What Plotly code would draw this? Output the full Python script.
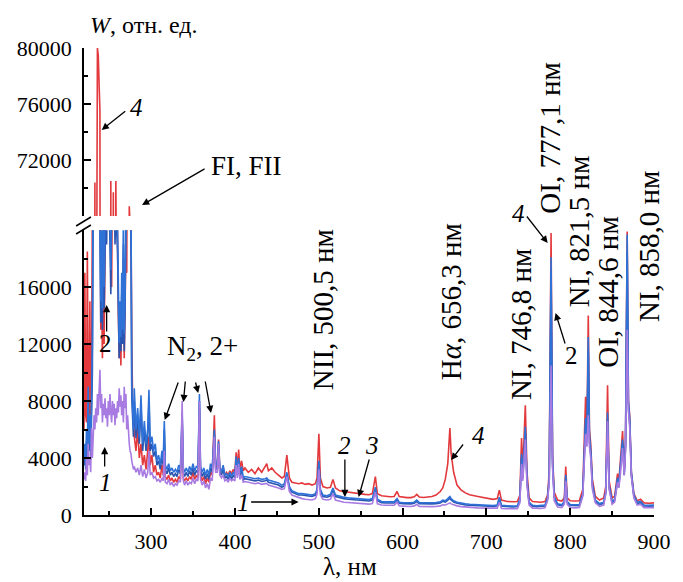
import plotly.graph_objects as go

# ---------------- data ----------------
lam_uv = [220, 221, 222, 223, 224, 225, 226, 227, 228, 229,
          230, 231, 232, 233, 234, 235, 236, 237, 238, 239,
          240, 241, 242, 243, 244, 245, 246, 247, 248, 249,
          250, 251, 252, 253, 254, 255, 256, 257, 258, 259,
          260, 261, 262, 263, 264, 265, 266, 267, 268, 269,
          270, 271, 272, 273, 274, 275, 276, 277, 278, 279,
          280]
lam_n2 = [282, 284, 286, 288, 290, 292, 294, 296, 297.5, 299,
          301, 303, 305, 307, 309, 311, 313, 314.5, 315.8, 317,
          319, 321, 323, 325, 327, 329, 331, 333, 335, 337.1,
          338.5, 340, 342, 344, 346, 348, 350, 352, 354, 356,
          357.7, 359, 361, 363, 365, 367, 369, 371, 373, 375.5,
          377, 379, 380.5, 382, 384, 386, 388, 390, 392, 394,
          396, 398, 400, 401.5, 403, 404.5, 406, 408, 410]
lam_vis = [412, 416, 420, 424, 428, 432, 436, 438, 440, 444,
           448, 452, 456, 459, 462, 465, 468, 472, 476, 480,
           484, 488, 492, 496, 498, 500.2, 502, 505, 510, 514,
           517, 520, 525, 530, 535, 540, 545, 550, 555, 560,
           564, 567.6, 570, 575, 580, 585, 590, 593.5, 596, 600,
           605, 610, 614, 617, 620, 625, 630, 635, 640, 645,
           648, 651, 654, 655.5, 656.5, 658, 661, 665, 670, 675,
           680, 690, 700, 708, 713, 715.5, 718, 725, 732, 737,
           740, 742, 743.5, 746.5, 748.5, 751, 755, 760, 765, 770,
           773, 775, 777.2, 779, 781, 785, 790, 793, 794.7, 796.5,
           800, 806, 811, 815, 818.4, 820, 821.6, 823, 824.5, 826.5,
           830, 835, 840, 842.5, 844.6, 846.5, 850, 853, 856.5, 858,
           859.8, 862.5, 864.5, 866, 868, 869.5, 871, 873, 876, 880,
           884, 888, 894, 900]

# curve 4 (red)
w4_uv = [6000, 17000, 7000, 6500, 18500, 8000, 7000, 15000, 6000, 9000,
         22000, 35000, 28000, 70400, 30000, 60000, 80000, 79500, 77500, 75500,
         13000, 16000, 11000, 18000, 12000, 20000, 24000, 21000, 25000, 22000,
         30000, 40000, 70500, 16000, 50000, 69700, 40000, 45000, 70500, 25000,
         18000, 14000, 11000, 13000, 10500, 15000, 12000, 18000, 11000, 15000,
         18500, 17000, 25000, 35000, 68700, 30000, 18000, 12000, 8000, 6500,
         5500]
w4_n2 = [4500, 6000, 4000, 5000, 3500, 4200, 3200, 4500, 5500, 3500,
         4200, 3000, 3500, 2800, 3000, 2600, 3500, 2800, 5000, 2700,
         2500, 2800, 2400, 2600, 2300, 2500, 2300, 2700, 2500, 6500,
         2600, 2400, 2600, 2400, 2700, 2500, 3000, 2500, 2800, 2600,
         7500, 2800, 2400, 2700, 2200, 2600, 2300, 3000, 2800, 7000,
         3500, 3200, 5300, 3200, 3000, 3400, 2800, 3000, 2800, 3100,
         2900, 3200, 3000, 4400, 3300, 4600, 3200, 3800, 3100]
w4_vis = [3300, 3000, 3200, 2900, 3300, 3000, 3400, 3600, 3100, 3300,
          3000, 2800, 2600, 2700, 4200, 2600, 2300, 2250, 2200, 2250,
          2150, 2200, 2100, 2200, 2600, 5700, 2600, 2000, 1900, 1950,
          2500, 1900, 1700, 1650, 1600, 1550, 1500, 1480, 1450, 1420,
          1500, 2700, 1500, 1350, 1300, 1280, 1300, 1650, 1300, 1250,
          1220, 1220, 1280, 1450, 1260, 1230, 1250, 1300, 1400, 1650,
          1900, 2500, 3600, 5200, 6100, 4300, 3000, 2100, 1750, 1550,
          1420, 1300, 1200, 1100, 1150, 1750, 1050, 950, 930, 950,
          1400, 5400, 3200, 7700, 3000, 1200, 950, 900, 900, 950,
          1400, 3000, 19800, 4200, 1600, 1050, 980, 1200, 3400, 1200,
          1000, 980, 1000, 1800, 8300, 6000, 14000, 6000, 5000, 2500,
          1300, 1050, 1200, 2000, 9100, 2400, 1200, 1300, 2900, 2300,
          3600, 5900, 3200, 5000, 19900, 8000, 7000, 3000, 1500, 1000,
          1100, 850, 820, 850]

# curve 2 (blue)
w2_uv = [4000, 5000, 3500, 6000, 4500, 9000, 5000, 7000, 4500, 8000,
         12000, 25000, 30000, 28000, 26000, 30000, 28000, 27000, 25000, 22000,
         15000, 21000, 14500, 24000, 16000, 22000, 25000, 21000, 26000, 23000,
         24000, 21000, 17200, 23000, 25000, 22000, 26000, 21000, 24000, 22000,
         20500, 16000, 12100, 15000, 12500, 17000, 13000, 21000, 12700, 16000,
         25000, 22000, 26000, 24000, 28000, 25000, 23000, 9000, 7500, 6000,
         8900]
w2_n2 = [6000, 7500, 5500, 8400, 5000, 6600, 5000, 6000, 8800, 5000,
         5500, 4500, 5000, 3800, 4200, 3500, 4500, 3800, 6600, 3500,
         3200, 3600, 3100, 3300, 3000, 3200, 3000, 3500, 3200, 7200,
         3300, 3000, 3300, 3000, 3400, 3100, 3600, 3100, 3400, 3300,
         8500, 3400, 3000, 3300, 2800, 3200, 2800, 3600, 3300, 6000,
         3600, 3500, 5200, 3300, 3000, 3500, 2800, 2900, 2700, 3000,
         2700, 3000, 2800, 4100, 3000, 4000, 2900, 3400, 2600]
w2_vis = [2700, 2650, 2600, 2550, 2600, 2500, 2550, 2600, 2450, 2400,
          2350, 2250, 2100, 2200, 3000, 2000, 1700, 1600, 1500, 1500,
          1450, 1450, 1400, 1500, 1800, 3800, 1800, 1400, 1350, 1450,
          1900, 1400, 1300, 1250, 1200, 1180, 1150, 1120, 1100, 1080,
          1150, 1950, 1100, 950, 920, 900, 920, 1150, 900, 880,
          860, 860, 900, 1050, 870, 850, 850, 860, 880, 920,
          1050, 1000, 1150, 1250, 1300, 1150, 1000, 900, 830, 780,
          750, 720, 690, 660, 700, 1250, 680, 630, 620, 650,
          1100, 4300, 2800, 6200, 2500, 900, 680, 650, 650, 700,
          1200, 2600, 18100, 3800, 1300, 780, 720, 950, 2800, 950,
          730, 700, 720, 1500, 6800, 5500, 12500, 5500, 4600, 2200,
          1050, 800, 900, 1700, 7200, 2100, 950, 1100, 2600, 2100,
          3200, 5300, 3000, 5000, 19700, 8000, 6800, 3000, 1400, 900,
          950, 700, 680, 700]

# curve 3 (dark blue, lies just under curve 2)
w3_uv = [3500, 4500, 3200, 5200, 4000, 7500, 4500, 6000, 4000, 7000,
         10000, 22000, 26000, 25000, 23000, 27000, 25000, 24000, 22000, 20000,
         13500, 19000, 13000, 21000, 14500, 20000, 22000, 19000, 23000, 21000,
         22000, 19000, 15500, 21000, 22500, 20000, 23000, 19000, 21500, 20000,
         18500, 14500, 11000, 13500, 11500, 15500, 12000, 19000, 11500, 14500,
         22000, 20000, 23000, 21500, 25000, 22500, 21000, 8200, 6800, 5500,
         8000]
w3_n2 = [5400, 6800, 5000, 7600, 4500, 6000, 4500, 5400, 8000, 4500,
         5000, 4100, 4500, 3500, 3800, 3200, 4100, 3500, 6000, 3200,
         2900, 3300, 2800, 3000, 2700, 2900, 2700, 3200, 2900, 6800,
         3000, 2700, 3000, 2700, 3100, 2800, 3300, 2800, 3100, 3000,
         8000, 3100, 2700, 3000, 2500, 2900, 2500, 3300, 3000, 5600,
         3300, 3200, 4900, 3000, 2800, 3200, 2600, 2700, 2500, 2800,
         2500, 2800, 2600, 3900, 2800, 3800, 2700, 3200, 2450]
w3_vis = [2550, 2500, 2450, 2400, 2450, 2350, 2400, 2450, 2300, 2250,
          2200, 2100, 1950, 2050, 2850, 1850, 1600, 1500, 1400, 1400,
          1350, 1350, 1300, 1400, 1700, 3600, 1700, 1300, 1250, 1350,
          1750, 1300, 1200, 1150, 1100, 1080, 1050, 1020, 1000, 980,
          1050, 1800, 1000, 870, 840, 820, 840, 1050, 820, 800,
          780, 780, 820, 950, 790, 770, 770, 780, 800, 840,
          960, 910, 1050, 1140, 1180, 1050, 910, 820, 750, 710,
          680, 650, 630, 600, 640, 1150, 620, 570, 560, 590,
          1000, 4000, 2600, 5800, 2300, 820, 620, 590, 590, 640,
          1100, 2400, 17000, 3500, 1200, 710, 660, 870, 2600, 870,
          670, 640, 660, 1400, 6300, 5100, 11500, 5100, 4300, 2000,
          960, 730, 820, 1550, 6700, 1900, 870, 1000, 2400, 1950,
          3000, 5000, 2800, 4700, 18500, 7500, 6400, 2800, 1300, 820,
          870, 640, 620, 640]

# curve 1 (purple)
w1_uv = [2500, 3000, 2400, 4000, 2800, 5000, 3500, 4000, 3000, 6100,
         4000, 5500, 7000, 6000, 7500, 6500, 8500, 7000, 9000, 10200,
         7500, 8500, 6500, 7800, 7000, 8200, 6800, 7500, 6200, 8000,
         7000, 8500, 7200, 6500, 8000, 7000, 7800, 6300, 7500, 6800,
         8000, 7200, 8900, 7600, 8400, 7000, 8000, 6500, 9000, 7500,
         8500, 6000, 7000, 5500, 5000, 4500, 4300, 3800, 3500, 3200,
         3400]
w1_n2 = [3000, 3300, 2800, 3500, 2700, 3200, 2600, 3000, 4500, 2800,
         3000, 2600, 2700, 2400, 2500, 2300, 2600, 2400, 4500, 2300,
         2200, 2500, 2100, 2300, 2000, 2200, 2100, 2400, 2300, 8000,
         2400, 2100, 2400, 2100, 2300, 2200, 2600, 2200, 2500, 2400,
         8000, 2500, 2100, 2400, 1900, 2200, 1800, 2600, 2400, 5500,
         3000, 3000, 5000, 2800, 2600, 2800, 2400, 2500, 2300, 2600,
         2400, 2500, 2400, 3500, 2600, 3600, 2500, 2800, 2300]
w1_vis = [2350, 2300, 2250, 2200, 2250, 2150, 2200, 2200, 2100, 2050,
          2000, 1900, 1800, 1850, 2700, 1650, 1400, 1300, 1200, 1150,
          1100, 1100, 1050, 1150, 1450, 3200, 1400, 1100, 1050, 1100,
          1500, 1050, 950, 900, 880, 850, 830, 800, 780, 760,
          800, 1600, 780, 700, 680, 660, 680, 900, 650, 620,
          600, 600, 640, 750, 600, 580, 580, 590, 600, 640,
          720, 700, 780, 830, 850, 780, 700, 640, 590, 560,
          530, 500, 480, 460, 480, 900, 460, 440, 430, 450,
          850, 3600, 2400, 5300, 2100, 700, 480, 460, 460, 500,
          1000, 2300, 10500, 3300, 1000, 560, 520, 750, 2400, 750,
          520, 500, 520, 1300, 5700, 4800, 7000, 4800, 4000, 1800,
          850, 600, 700, 1500, 6600, 1800, 750, 900, 2300, 1900,
          2800, 4700, 2800, 4500, 13000, 7300, 6200, 2700, 1200, 700,
          750, 520, 500, 520]

x_ticks = [300, 400, 500, 600, 700, 800, 900]
x_minor = [250, 350, 450, 550, 650, 750, 850]
y_low_ticks = [0, 4000, 8000, 12000, 16000]
y_low_minor = [2000, 6000, 10000, 14000, 18000]
y_up_ticks = [72000, 76000, 80000]
y_up_minor = [70000, 74000, 78000]

line_labels = ["NII, 500,5 нм", "H<i>α</i>, 656,3 нм", "NI, 746,8 нм", "OI, 777,1 нм",
               "NI, 821,5 нм", "OI, 844,6 нм", "NI, 858,0 нм"]

lam = lam_uv + lam_n2 + lam_vis
series = [
    ("4", w4_uv + w4_n2 + w4_vis, "#e3393c"),
    ("3", w3_uv + w3_n2 + w3_vis, "#2a55b0"),
    ("2", w2_uv + w2_n2 + w2_vis, "#2e72d8"),
    ("1", w1_uv + w1_n2 + w1_vis, "#a87be2"),
]
for _, v, _c in series:
    assert len(v) == len(lam), (len(v), len(lam))

# ---------------- layout geometry ----------------
W, H = 683, 582
ML, MR, MT, MB = 84, 20, 48, 67
PW = W - ML - MR
PH = H - MT - MB
FONT = "Liberation Serif, Times New Roman, serif"


def px(x):
    return (x - ML) / PW


def py(y):
    return (H - MB - y) / PH


fig = go.Figure()
for name, vals, col in series:
    for ya in ("y", "y2"):
        fig.add_trace(go.Scatter(x=lam, y=vals, mode="lines", yaxis=ya,
                                 line=dict(color=col, width=1.6),
                                 showlegend=False, hoverinfo="skip"))

axis_common = dict(showline=True, linecolor="black", linewidth=1.5,
                   ticks="inside", ticklen=7, tickwidth=1.5, tickcolor="black",
                   showgrid=False, zeroline=False, tickmode="array",
                   ticklabelstandoff=6,
                   tickfont=dict(family=FONT, size=22, color="black"))


def minor(vals):
    return dict(tickmode="array", tickvals=vals, ticks="inside",
                ticklen=4, tickwidth=1.5, tickcolor="black")


fig.update_layout(
    width=W, height=H,
    margin=dict(l=ML, r=MR, t=MT, b=MB, pad=0),
    paper_bgcolor="white", plot_bgcolor="white",
    font=dict(family=FONT, color="black"),
    xaxis=dict(domain=[0, 1], anchor="y", range=[220, 900],
               tickvals=x_ticks, ticktext=[str(v) for v in x_ticks],
               minor=minor(x_minor), **axis_common),
    yaxis=dict(domain=[0, 0.61], anchor="x", range=[0, 20000],
               tickvals=y_low_ticks, ticktext=[str(v) for v in y_low_ticks],
               minor=minor(y_low_minor), **axis_common),
    yaxis2=dict(domain=[0.64, 1], anchor="x", range=[68000, 80000],
                tickvals=y_up_ticks, ticktext=[str(v) for v in y_up_ticks],
                minor=minor(y_up_minor), **axis_common),
)

# axis break marks
for (x0, y0, x1, y1) in [(76, 226, 91, 217), (76, 234, 91, 225)]:
    fig.add_shape(type="line", xref="paper", yref="paper",
                  x0=px(x0), y0=py(y0), x1=px(x1), y1=py(y1),
                  line=dict(color="black", width=1.5))


def text(t, x, y, size, angle=0):
    fig.add_annotation(text=t, x=px(x), y=py(y), xref="paper", yref="paper",
                       xanchor="center", yanchor="middle", showarrow=False,
                       textangle=angle, font=dict(family=FONT, size=size, color="black"))


def arrow(x0, y0, x1, y1):
    fig.add_annotation(text="", x=px(x1), y=py(y1), xref="paper", yref="paper",
                       ax=x0 - x1, ay=y0 - y1, axref="pixel", ayref="pixel",
                       showarrow=True, arrowhead=2, arrowsize=1.1, arrowwidth=1.3,
                       arrowcolor="black", standoff=0, startstandoff=0,
                       font=dict(family=FONT, size=12))


# rotated spectral line labels
rot_pos = [(327, 310), (457, 302), (528, 325), (557, 138), (587, 232), (616, 292), (658, 247)]
for lbl, (x, y) in zip(line_labels, rot_pos):
    text(lbl, x, y, 29, angle=-90)

text("FI, FII", 249, 166, 27)
text("N<sub>2</sub>, 2+", 204, 348, 27)
text("<i>W</i>, отн. ед.", 145, 25, 24)
text("λ, нм", 354, 566, 25)

# curve numbers
text("<i>4</i>", 137, 108, 25)
text("2", 106, 343, 25)
text("<i>1</i>", 106, 482, 25)
text("<i>1</i>", 246, 502, 25)
text("<i>2</i>", 349, 445, 25)
text("<i>3</i>", 377, 445, 25)
text("<i>4</i>", 485, 435, 25)
text("<i>4</i>", 525, 213, 25)
text("2", 579, 355, 25)

# arrows (tail -> head)
arrow(127, 110, 102, 130)
arrow(207, 168, 143, 205)
arrow(107, 333, 107, 305)
arrow(105, 468, 105, 447)
arrow(180, 381, 166, 420)
arrow(187, 380, 185, 402)
arrow(197, 381, 200, 393)
arrow(207, 380, 213, 413)
arrow(253, 502, 302, 502)
arrow(349, 458, 349, 497)
arrow(374, 458, 363, 497)
arrow(470, 443, 457, 460)
arrow(533, 215, 555, 243)
arrow(573, 345, 563, 313)

fig.write_html("out.html", config={"displayModeBar": False})
